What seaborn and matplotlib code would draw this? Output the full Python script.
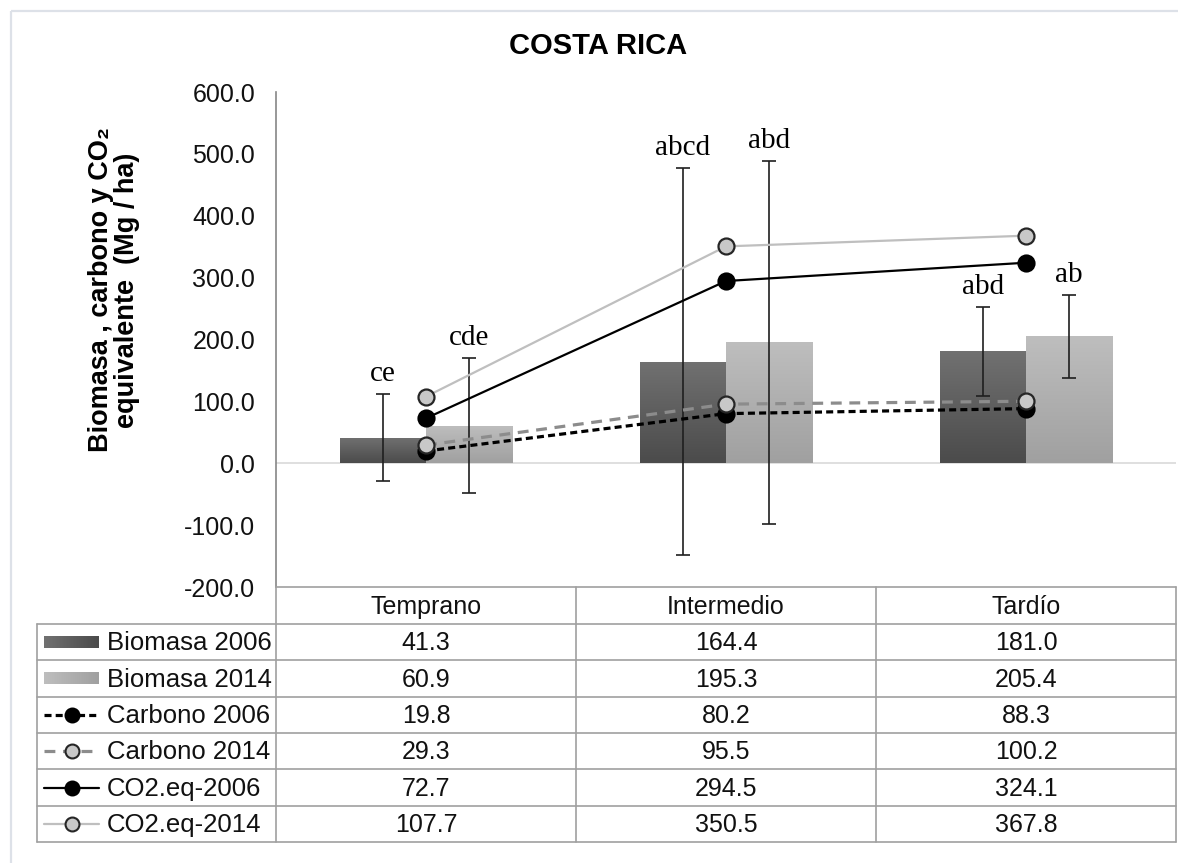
import numpy as np
import pandas as pd
import matplotlib
matplotlib.use("Agg")
import matplotlib.pyplot as plt
from matplotlib.patches import Rectangle
from matplotlib.lines import Line2D
from matplotlib.colors import LinearSegmentedColormap
from matplotlib.ticker import FuncFormatter
import seaborn as sns

# ---- data ---------------------------------------------------------------
etapas = ["Temprano", "Intermedio", "Tardío"]
biomasa_2006 = [41.3, 164.4, 181.0]
biomasa_2014 = [60.9, 195.3, 205.4]
carbono_2006 = [19.8, 80.2, 88.3]
carbono_2014 = [29.3, 95.5, 100.2]
co2eq_2006 = [72.7, 294.5, 324.1]
co2eq_2014 = [107.7, 350.5, 367.8]
error_2006 = [70.0, 312.5, 72.0]
error_2014 = [109.5, 293.0, 67.0]
letras_2006 = ["ce", "abcd", "abd"]
letras_2014 = ["cde", "abd", "ab"]
y_ticks = [-200, -100, 0, 100, 200, 300, 400, 500, 600]

serie_barras = ["Biomasa 2006", "Biomasa 2014"]
serie_lineas = ["Carbono 2006", "Carbono 2014", "CO2.eq-2006", "CO2.eq-2014"]

# ---- styles ---------------------------------------------------------------
bar_grad = {"Biomasa 2006": ("#717171", "#4b4b4b"),
            "Biomasa 2014": ("#bebebe", "#a0a0a0")}
line_style = {
    "Carbono 2006": dict(color="#000000", lw=2.3, ls=(0, (2.2, 1.3)),
                         mfc="#000000", mec="#000000"),
    "Carbono 2014": dict(color="#8c8c8c", lw=2.3, ls=(0, (3.4, 2.4)),
                         mfc="#c8c8c8", mec="#262626"),
    "CO2.eq-2006": dict(color="#000000", lw=1.6, ls="-",
                        mfc="#000000", mec="#000000"),
    "CO2.eq-2014": dict(color="#bfbfbf", lw=1.6, ls="-",
                        mfc="#c8c8c8", mec="#262626"),
}
TXT = "#111111"
GRID = "#a0a0a0"

sns.set_theme(style="white")
plt.rcParams["font.family"] = ["Liberation Sans", "DejaVu Sans"]

W, H = 1178, 863
fig = plt.figure(figsize=(W / 100, H / 100), dpi=100)
fig.patch.set_facecolor("white")

# main plotting area (pixel layout converted to figure fractions)
ax_l, ax_r, ax_t, ax_b = 276, 1176, 92, 587
ax = fig.add_axes([ax_l / W, 1 - ax_b / H, (ax_r - ax_l) / W, (ax_b - ax_t) / H])

# ---- bars -----------------------------------------------------------------
bar_df = pd.DataFrame({
    "etapa": etapas * 2,
    "valor": biomasa_2006 + biomasa_2014,
    "serie": [serie_barras[0]] * 3 + [serie_barras[1]] * 3,
})
sns.barplot(data=bar_df, x="etapa", y="valor", hue="serie", order=etapas,
            hue_order=serie_barras,
            palette={k: v[1] for k, v in bar_grad.items()},
            width=0.575, errorbar=None, saturation=1, linewidth=0,
            legend=False, ax=ax, zorder=2)
bar_containers = list(ax.containers)

grad = np.linspace(0, 1, 256).reshape(-1, 1)
errores = [error_2006, error_2014]
valores = [biomasa_2006, biomasa_2014]
letras = [letras_2006, letras_2014]
for i, cont in enumerate(bar_containers):
    top, bottom = bar_grad[serie_barras[i]]
    cmap = LinearSegmentedColormap.from_list(f"g{i}", [bottom, top])
    for j, bar in enumerate(cont.patches):
        x0, w, h = bar.get_x(), bar.get_width(), bar.get_height()
        im = ax.imshow(grad, extent=[x0, x0 + w, 0, h], origin="lower",
                       aspect="auto", cmap=cmap, zorder=2.1)
        im.set_clip_path(bar)
        xc = x0 + w / 2
        v, e = valores[i][j], errores[i][j]
        ax.errorbar(xc, v, yerr=e, fmt="none", ecolor="#1f1f1f",
                    elinewidth=1.2, capsize=5, capthick=1.2, zorder=3)
        ax.annotate(letras[i][j], (xc, v + e), xytext=(0, 5),
                    textcoords="offset points", ha="center", va="bottom",
                    family="Liberation Serif", fontsize=21, color="#000000",
                    zorder=6)

# ---- lines ----------------------------------------------------------------
line_vals = {"Carbono 2006": carbono_2006, "Carbono 2014": carbono_2014,
             "CO2.eq-2006": co2eq_2006, "CO2.eq-2014": co2eq_2014}
pos = np.arange(len(etapas))
for k, name in enumerate(serie_lineas):
    st = line_style[name]
    sns.lineplot(x=pos, y=line_vals[name], ax=ax, color=st["color"],
                 linewidth=st["lw"], linestyle=st["ls"], marker="o",
                 markersize=11.5, markerfacecolor=st["mfc"],
                 markeredgecolor=st["mec"], markeredgewidth=1.6,
                 legend=False, zorder=4 + k * 0.1)

# ---- axes styling -----------------------------------------------------------
ax.axhline(0, color="#d9d9d9", lw=1.2, zorder=1)
ax.set_xlim(-0.5, len(etapas) - 0.5)
ax.set_ylim(y_ticks[0], y_ticks[-1])
ax.set_yticks(y_ticks)
ax.yaxis.set_major_formatter(FuncFormatter(lambda v, p: f"{v:.1f}"))
ax.tick_params(axis="y", length=0, pad=15, labelsize=18, labelcolor=TXT)
ax.set_xticks([])
ax.set_xlabel("")
ax.set_ylabel("")
for s in ["top", "right", "bottom"]:
    ax.spines[s].set_visible(False)
ax.spines["left"].set_color("#868686")
ax.spines["left"].set_linewidth(1.2)
ax.grid(False)
ax.set_facecolor("none")

# ---- title and axis label ---------------------------------------------------
fig.text(598 / W, 1 - 46 / H, "COSTA RICA", ha="center", va="center",
         fontsize=21, fontweight="bold", color="#000000")
fig.text(114 / W, 1 - 290 / H, "Biomasa , carbono y CO\u2082\nequivalente  (Mg / ha)",
         rotation=90, ha="center", va="center", multialignment="center",
         fontsize=19.5, fontweight="bold", color="#000000", linespacing=1.0)

# ---- data table below the plot --------------------------------------------
tax = fig.add_axes([0, 0, 1, 1], zorder=5)
tax.set_xlim(0, W)
tax.set_ylim(H, 0)
tax.axis("off")
tax.patch.set_alpha(0)

# outer chart frame
tax.add_patch(Rectangle((10.5, 11), 1250, 900, fill=False,
                        edgecolor="#dde1e8", lw=1.6))

leg_l = 37
head_b = 624
row_h = (842 - head_b) / 6
col_edges = [ax_l + i * (ax_r - ax_l) / len(etapas) for i in range(len(etapas) + 1)]
col_cent = [(col_edges[i] + col_edges[i + 1]) / 2 for i in range(len(etapas))]

tax.plot([ax_l, ax_r], [ax_b, ax_b], color=GRID, lw=1.2)
for r in range(7):
    y = head_b + r * row_h
    tax.plot([leg_l, ax_r], [y, y], color=GRID, lw=1.2)
for xe in col_edges:
    tax.plot([xe, xe], [ax_b, head_b + 6 * row_h], color=GRID, lw=1.2)
tax.plot([leg_l, leg_l], [head_b, head_b + 6 * row_h], color=GRID, lw=1.2)

for c, name in zip(col_cent, etapas):
    tax.text(c, (ax_b + head_b) / 2 + 1, name, ha="center", va="center",
             fontsize=18, color=TXT)

row_names = serie_barras + serie_lineas
row_vals = {"Biomasa 2006": biomasa_2006, "Biomasa 2014": biomasa_2014}
row_vals.update(line_vals)
for r, name in enumerate(row_names):
    yc = head_b + (r + 0.5) * row_h
    for c, v in zip(col_cent, row_vals[name]):
        tax.text(c, yc + 1, f"{v:.1f}", ha="center", va="center",
                 fontsize=18, color=TXT)
    tax.text(107, yc + 1, name, ha="left", va="center", fontsize=18.5, color=TXT)
    if name in bar_grad:
        top, bottom = bar_grad[name]
        cmap = LinearSegmentedColormap.from_list("k" + name, [bottom, top])
        tax.imshow(np.linspace(0, 1, 64).reshape(1, -1)[:, ::-1],
                   extent=[44, 99, yc + 6, yc - 6], aspect="auto", cmap=cmap,
                   zorder=6)
    else:
        st = line_style[name]
        tax.add_line(Line2D([44, 99], [yc, yc], color=st["color"], lw=st["lw"],
                            ls=st["ls"], zorder=6))
        tax.add_line(Line2D([71.5], [yc], marker="o", markersize=10,
                            markerfacecolor=st["mfc"], markeredgecolor=st["mec"],
                            markeredgewidth=1.5, ls="none", zorder=7))

tax.set_xlim(0, W)
tax.set_ylim(H, 0)

fig.savefig("out.png", dpi=100, facecolor="white")
